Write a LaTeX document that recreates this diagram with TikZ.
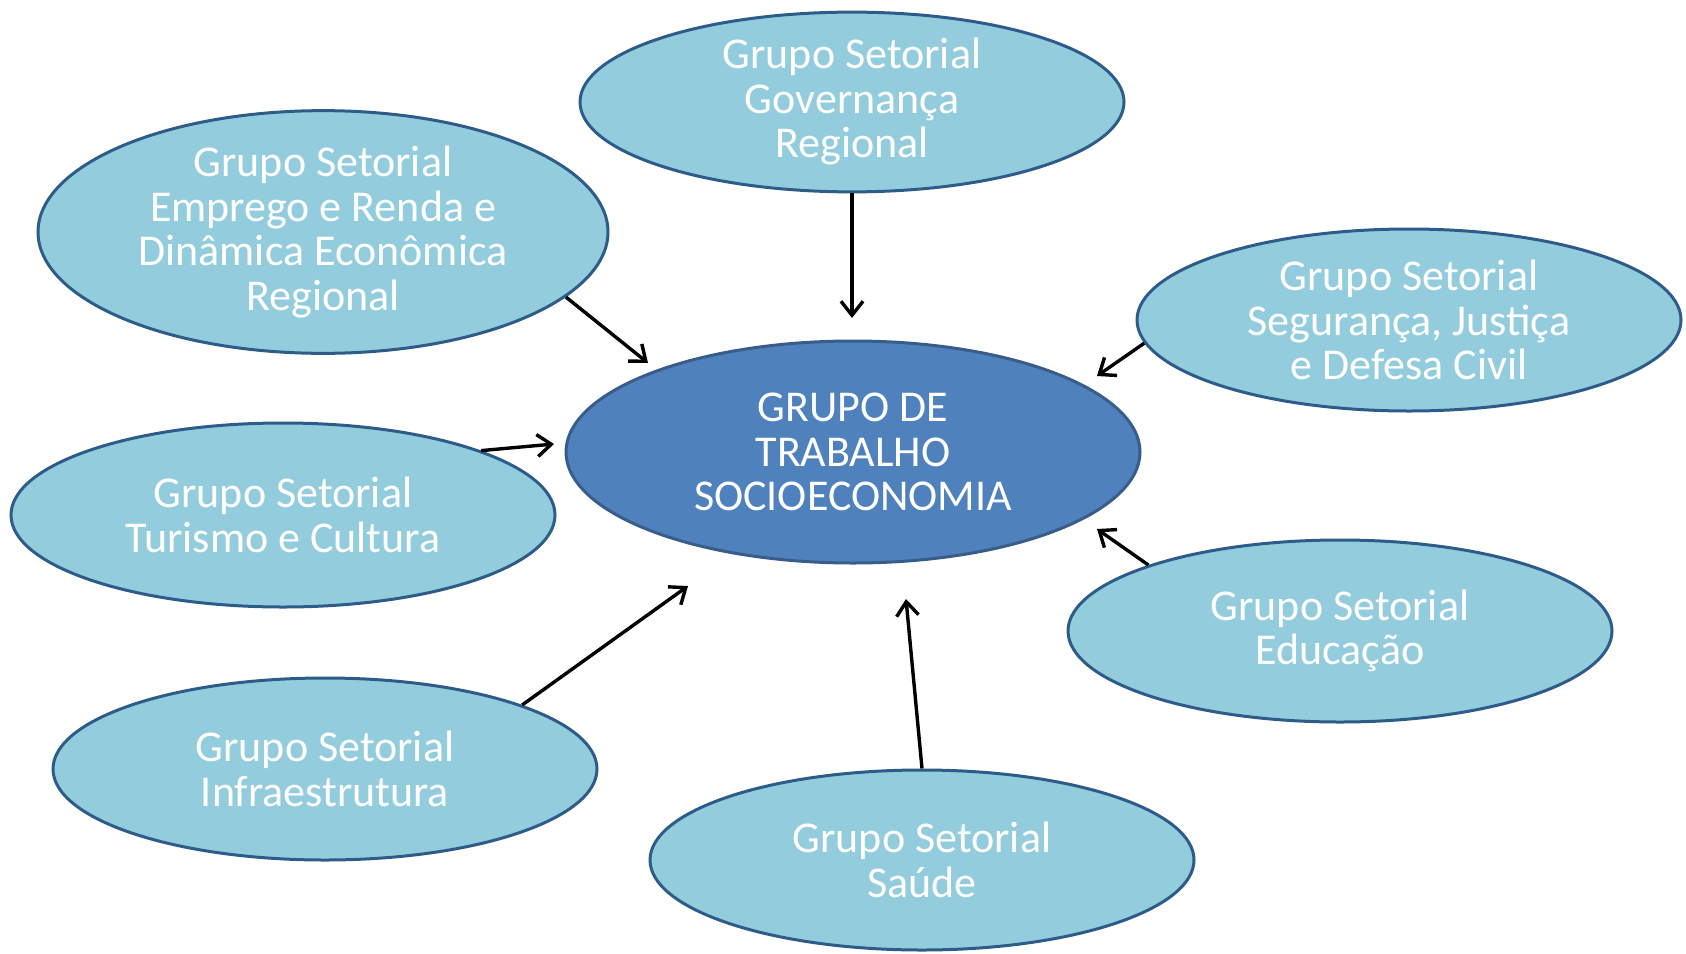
\documentclass[tikz,border=0pt]{standalone}
\usepackage{fontspec}
\setmainfont{Carlito}
\usetikzlibrary{shapes.geometric,arrows.meta}
\definecolor{lightfill}{HTML}{93CDDD}
\definecolor{lightline}{HTML}{2E5C8A}
\definecolor{darkfill}{HTML}{4F81BD}
\definecolor{darkline}{HTML}{385D8A}
\begin{document}
\begin{tikzpicture}[x=1pt,y=-1pt,
  grp/.style={ellipse,draw=lightline,fill=lightfill,line width=3pt,inner sep=0pt,
    text=white,align=center,font=\fontsize{44}{44.5}\selectfont},
  mainnode/.style={ellipse,draw=darkline,fill=darkfill,line width=3pt,inner sep=0pt,
    text=white,align=center,font=\fontsize{44}{44.5}\selectfont},
  arr/.style={line width=3.4pt,-{Straight Barb[length=14pt,width=22pt,line width=3.4pt]}}]
\useasboundingbox (0,0) rectangle (1686,953);
\node[grp,minimum width=544,minimum height=178] (gov) at (852,102) {Grupo Setorial\\Governança\\Regional};
\node[grp,minimum width=570,minimum height=222] (emp) at (323,232) {Grupo Setorial\\Emprego e Renda e\\Dinâmica Econômica\\Regional};
\node[grp,minimum width=544,minimum height=182] (seg) at (1409,320) {Grupo Setorial\\Segurança, Justiça\\e Defesa  Civil};
\node[mainnode,minimum width=574,minimum height=222] (ctr) at (853,452) {GRUPO DE\\TRABALHO\\SOCIOECONOMIA};
\node[grp,minimum width=544,minimum height=184] (tur) at (283,515) {Grupo Setorial\\Turismo e  Cultura};
\node[grp,minimum width=544,minimum height=182] (edu) at (1340,631) {Grupo Setorial\\Educação};
\node[grp,minimum width=544,minimum height=182] (inf) at (325,769) {Grupo Setorial\\Infraestrutura};
\node[grp,minimum width=544,minimum height=180] (sau) at (922,860) {Grupo Setorial\\Saúde};
\coordinate (tgov) at (852,318);
\coordinate (temp) at (648,363);
\coordinate (tseg) at (1097,376);
\coordinate (ttur) at (554,444);
\coordinate (tedu) at (1097,529);
\coordinate (tinf) at (688,586);
\coordinate (tsau) at (906,599);
\draw[arr] (gov.south) -- (tgov);
\draw[arr] (emp.-15) -- (temp);
\draw[arr] (seg.185) -- (tseg);
\draw[arr] (tur.18) -- (ttur);
\draw[arr] (edu.161) -- (tedu);
\draw[arr] (inf.18) -- (tinf);
\draw[arr] (sau.north) -- (tsau);
\end{tikzpicture}
\end{document}
